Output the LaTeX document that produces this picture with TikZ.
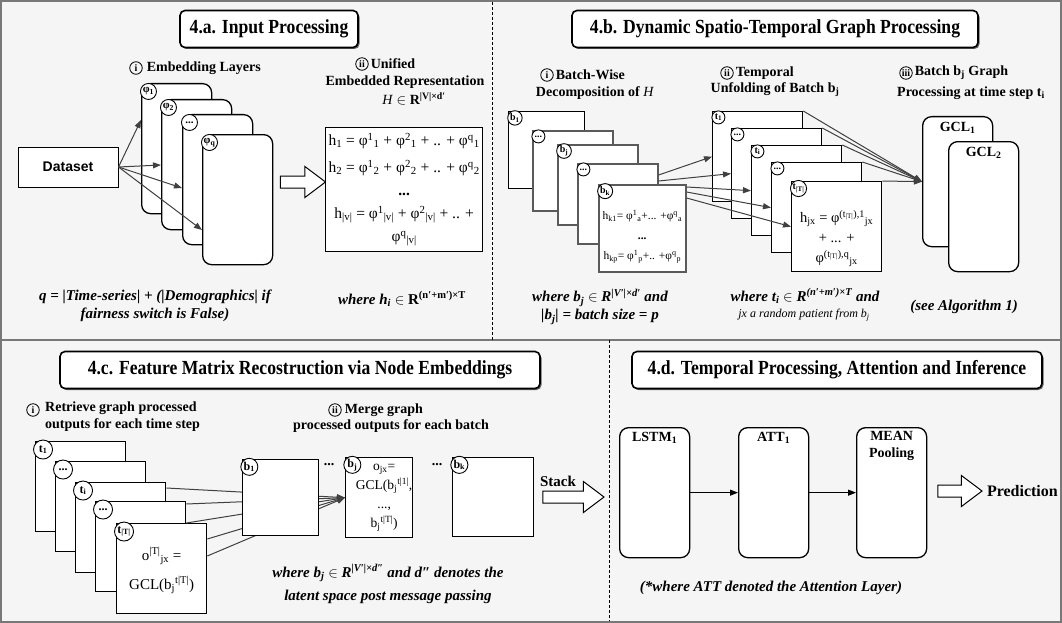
\documentclass[tikz,border=0pt]{standalone}
\usepackage{fontspec}
\setmainfont{Liberation Serif}
\newfontfamily\headfont[FakeStretch=0.88]{Liberation Serif}
\newfontfamily\arialfont{Liberation Sans}
\usetikzlibrary{positioning,arrows.meta,shapes.arrows,shadows}

\newcommand{\sps}[2]{\textsuperscript{#1}\textsubscript{#2}}

\begin{document}
\begin{tikzpicture}[x=1pt, y=-1pt]
	% Colours
	\definecolor{canvas}{RGB}{245,245,245}
	\definecolor{rim}{RGB}{120,120,120}
	\definecolor{edge}{RGB}{64,64,64}
	\definecolor{sheetgray}{RGB}{90,90,90}

	% Styles
	\tikzset{
		panel/.style={draw, line width=1.6pt, rounded corners=5pt, fill=white, minimum height=37pt,
			font=\headfont\bfseries\fontsize{20}{22}\selectfont,
			drop shadow={shadow xshift=1.5pt, shadow yshift=-1.5pt, opacity=0.6, fill=black}},
		layer/.style={draw, line width=1.3pt, rounded corners=9pt, fill=white, anchor=north west,
			minimum width=70pt, minimum height=130pt, inner sep=0pt},
		sheet/.style={draw, line width=1.3pt, fill=white, anchor=north west, inner sep=0pt},
		batch/.style={sheet, draw=sheetgray, line width=1.6pt, minimum width=80pt, minimum height=80pt},
		tframe/.style={sheet, minimum width=90pt, minimum height=90pt},
		tag/.style={circle, draw, line width=0.9pt, fill=white, inner sep=0.6pt, minimum size=16pt,
			font=\bfseries\fontsize{11}{12}\selectfont, anchor=north west},
		smalltag/.style={tag, minimum size=13pt, font=\bfseries\fontsize{10}{11}\selectfont},
		bigtag/.style={tag, minimum size=19pt, font=\bfseries\fontsize{12}{13}\selectfont},
		num/.style={circle, draw, line width=0.8pt, inner sep=0.3pt, minimum size=12.5pt,
			font=\bfseries\fontsize{10}{11}\selectfont},
		lbl/.style={font=\bfseries\fontsize{14}{17}\selectfont, inner sep=1pt},
		note/.style={font=\bfseries\itshape\fontsize{15}{18}\selectfont, align=center},
		link/.style={-{Triangle[length=8pt, width=6pt]}, draw=edge, line width=1pt},
		bigarrow/.style={single arrow, draw, line width=1pt, fill=white, inner sep=5.5pt,
			single arrow head extend=9.5pt, single arrow tip angle=74, minimum height=45pt}
	}

	% --- Background and frame ---
	\useasboundingbox (0,0) rectangle (1062,623);
	\fill[canvas] (0,0) rectangle (1062,623);
	\draw[rim, line width=2pt] (1,1) rectangle (1061,622);
	\draw[rim, line width=1.5pt] (0,340) -- (1062,340);
	\draw[dash pattern=on 3pt off 2pt, line width=0.6pt] (492,2) -- (492,340);
	\draw[dash pattern=on 3pt off 2pt, line width=0.6pt] (609,340) -- (609,621);

	% --- Panel titles ---
	\node[panel, minimum width=178pt] (Ta) at (269,29) {4.a. Input Processing};
	\node[panel, minimum width=406pt] (Tb) at (775,29) {4.b. Dynamic Spatio-Temporal Graph Processing};
	\node[panel, minimum width=480pt] (Tc) at (300,370) {4.c. Feature Matrix Recostruction via Node Embeddings};
	\node[panel, minimum width=410pt] (Td) at (837,370) {4.d. Temporal Processing, Attention and Inference};

	% --- 4.a Input processing ---
	\node[num] (ai) at (136,68) {i};
	\node[lbl, anchor=west] (aiT) at ([xshift=3pt]ai.east) {Embedding Layers};
	\node[layer] (P1) at (141,83) {};
	\node[tag] (P1t) at ([shift={(1.5,2.5)}]P1.north west) {φ\textsubscript{1}};
	\node[layer] (P2) at (161,99) {};
	\node[tag] (P2t) at ([shift={(1.5,2.5)}]P2.north west) {φ\textsubscript{2}};
	\node[layer] (P3) at (182,114) {};
	\node[tag] (P3t) at ([shift={(1.5,2.5)}]P3.north west) {...};
	\node[layer] (Pq) at (202,134) {};
	\node[tag] (Pqt) at ([shift={(1.5,2.5)}]Pq.north west) {φ\textsubscript{q}};

	\node[draw, fill=white, line width=1pt, minimum width=100pt, minimum height=40pt,
		font=\arialfont\bfseries\fontsize{14}{16}\selectfont] (D) at (68,167) {Dataset};
	\draw[link] (D.east) -- ([shift={(0,37)}]P1.north west);
	\draw[link] (D.east) -- ([shift={(0,66)}]P2.north west);
	\draw[link] (D.east) -- ([shift={(0,74)}]P3.north west);
	\draw[link] (D.east) -- ([shift={(0,96)}]Pq.north west);

	\node[bigarrow] (Aa) at (299,182) {};

	\node[num] (aii) at (362,64) {ii};
	\node[lbl, anchor=west] (aiiT) at ([xshift=1pt]aii.east) {Unified};
	\node[lbl] (aiiU) at (405,82) {Embedded Representation};
	\node[lbl] (aiiH) at (414,99) {\textit{\mdseries H} $\in$ R\textsuperscript{|V|×d′}};
	\node[sheet, minimum width=157pt, minimum height=124pt, align=center,
		font=\fontsize{15.5}{23}\selectfont] (Hb) at (325,127) {%
		h\textsubscript{1} = φ\sps{1}{1} + φ\sps{2}{1} + .. + φ\sps{q}{1}\\[4pt]
		h\textsubscript{2} = φ\sps{1}{2} + φ\sps{2}{2} + .. + φ\sps{q}{2}\\
		\textbf{...}\\
		h\textsubscript{|v|} = φ\sps{1}{|v|} + φ\sps{2}{|v|} + .. +\\
		φ\sps{q}{|v|}};

	\node[note] (aq) at (155,306) {q = |Time-series| + (|Demographics| if\\ fairness switch is False)};
	\node[note] (ah) at (402,299) {where h\textsubscript{i} \textup{$\in$ R\textsuperscript{(n′+m′)×T}}};

	% --- 4.b Dynamic spatio-temporal graph processing ---
	\node[num] (bi) at (547,75) {i};
	\node[lbl, anchor=west] (biT) at ([xshift=1pt]bi.east) {Batch-Wise};
	\node[lbl] (biD) at (595,93) {Decomposition of \textit{\mdseries H}};

	\node[batch, draw=black, line width=1.3pt, minimum width=76pt, minimum height=77pt] (B1) at (508,111) {};
	\node[smalltag] (B1t) at ([shift={(1.5,1.5)}]B1.north west) {b\textsubscript{1}};
	\node[batch] (Bd1) at (532,130) {};
	\node[smalltag] (Bd1t) at ([shift={(1.5,1.5)}]Bd1.north west) {...};
	\node[batch] (Bj) at (557,144) {};
	\node[smalltag] (Bjt) at ([shift={(1.5,1.5)}]Bj.north west) {b\textsubscript{j}};
	\node[batch] (Bd2) at (577,163) {};
	\node[smalltag] (Bd2t) at ([shift={(1.5,1.5)}]Bd2.north west) {...};
	\node[batch, minimum width=87pt, minimum height=87pt] (Bk) at (598,184) {};
	\node[smalltag, minimum size=15pt] (Bkt) at ([shift={(1.5,1.5)}]Bk.north west) {b\textsubscript{k}};
	\node[font=\fontsize{11.5}{20}\selectfont, align=center] (Bkx) at ([shift={(0,8)}]Bk.center)
		{h\textsubscript{k1}= φ\sps{1}{a}+... +φ\sps{q}{a}\\ \textbf{...}\\ h\textsubscript{kp}= φ\sps{1}{p}+.. +φ\sps{q}{p}};

	\node[num] (bii) at (727,73) {ii};
	\node[lbl, anchor=west] (biiT) at ([xshift=1pt]bii.east) {Temporal};
	\node[lbl] (biiU) at (775,90) {Unfolding of Batch b\textsubscript{j}};

	\node[tframe] (T1) at (712,111) {};
	\node[smalltag] (T1t) at ([shift={(1.5,1.5)}]T1.north west) {t\textsubscript{1}};
	\node[tframe] (Td1) at (731,128) {};
	\node[smalltag] (Td1t) at ([shift={(1.5,1.5)}]Td1.north west) {...};
	\node[tframe] (Ti) at (751,145) {};
	\node[smalltag] (Tit) at ([shift={(1.5,1.5)}]Ti.north west) {t\textsubscript{i}};
	\node[tframe] (Td2) at (771,162) {};
	\node[smalltag] (Td2t) at ([shift={(1.5,1.5)}]Td2.north west) {...};
	\node[tframe] (TT) at (791,181) {};
	\node[smalltag] (TTt) at ([shift={(1.5,1.5)}]TT.north west) {t\textsubscript{|T|}};
	\node[font=\fontsize{14.5}{20}\selectfont, align=center] (TTx) at ([shift={(0,12)}]TT.center)
		{h\textsubscript{jx} = φ\textsuperscript{(t\textsubscript{|T|}),1}\textsubscript{jx}\\ + ... +\\
		φ\textsuperscript{(t\textsubscript{|T|}),q}\textsubscript{jx}};

	\draw[link] ([shift={(0,12)}]Bd2.north east) -- (T1.west);
	\draw[link] ([shift={(0,18)}]Bd2.north east) -- (Td1.west);
	\draw[link] ([shift={(0,3)}]Bk.north east) -- (Ti.west);
	\draw[link] ([shift={(0,8)}]Bk.north east) -- (Td2.west);
	\draw[link] ([shift={(0,14)}]Bk.north east) -- (TT.west);

	\node[num] (biii) at (906,73) {iii};
	\node[lbl, anchor=west] (biiiT) at ([xshift=1pt]biii.east) {Batch b\textsubscript{j} Graph};
	\node[lbl] (biiiP) at (971,93) {Processing at time step t\textsubscript{i}};

	\node[layer] (G1) at (922,116) {};
	\node[lbl] (G1l) at ([shift={(0,12)}]G1.north) {GCL\textsubscript{1}};
	\node[layer] (G2) at (948,141) {};
	\node[lbl] (G2l) at ([shift={(0,12)}]G2.north) {GCL\textsubscript{2}};

	\draw[link] (T1.north east) -- (G1.west);
	\draw[link] (Td1.north east) -- (G1.west);
	\draw[link] (Ti.north east) -- (G1.west);
	\draw[link] (Td2.north east) -- (G1.west);
	\draw[link] (TT.north east) -- (G1.west);

	\node[note] (bb) at (600,307) {where b\textsubscript{j} \textup{$\in$} R\textsuperscript{|V′|×d′} and\\ |b\textsubscript{j}| = batch size = p};
	\node[note] (bt) at (805,296) {where t\textsubscript{i} \textup{$\in$} R\textsuperscript{(n′+m′)×T} and};
	\node[font=\itshape\fontsize{12}{14}\selectfont] (bt2) at (804,315) {jx a random patient from b\textsubscript{j}};
	\node[note] (bs) at (964,307) {(see Algorithm 1)};

	% --- 4.c Feature matrix reconstruction ---
	\node[num] (ci) at (33,410) {i};
	\node[lbl, anchor=north west, align=left] (ciT) at (44,401) {Retrieve graph processed\\outputs for each time step};

	\node[tframe] (C1) at (35,441) {};
	\node[bigtag] (C1t) at ([shift={(1,1.5)}]C1.north west) {t\textsubscript{1}};
	\node[tframe] (Cd1) at (55,461) {};
	\node[bigtag] (Cd1t) at ([shift={(1,1.5)}]Cd1.north west) {...};
	\node[tframe] (Ci) at (75,482) {};
	\node[bigtag] (Cit) at ([shift={(1,1.5)}]Ci.north west) {t\textsubscript{i}};
	\node[tframe] (Cd2) at (95,501) {};
	\node[bigtag] (Cd2t) at ([shift={(1,1.5)}]Cd2.north west) {...};
	\node[tframe] (CT) at (116,523) {};
	\node[bigtag] (CTt) at ([shift={(1,1.5)}]CT.north west) {t\textsubscript{|T|}};
	\node[font=\fontsize{15}{29}\selectfont, align=center] (CTx) at ([shift={(0,2)}]CT.center)
		{o\textsuperscript{|T|}\textsubscript{jx} =\\ GCL(b\textsubscript{j}\textsuperscript{t|T|})};

	\node[num] (cii) at (335,410) {ii};
	\node[lbl, anchor=west] (ciiT) at ([xshift=2pt]cii.east) {Merge graph};
	\node[lbl] (ciiP) at (391,426) {processed outputs for each batch};

	\node[sheet, minimum width=67pt, minimum height=80pt] (Cj) at (345,457) {};
	\node[bigtag, minimum size=17pt] (Cjt) at ([shift={(1,1.5)}]Cj.north west) {b\textsubscript{j}};
	\node[font=\fontsize{13.5}{19}\selectfont, align=center] (Cjx) at ([shift={(5,0)}]Cj.center)
		{o\textsubscript{jx}=\\ GCL(b\textsubscript{j}\textsuperscript{t|1|},\\ ...,\\ b\textsubscript{j}\textsuperscript{t|T|})};
	\node[sheet, minimum width=81pt, minimum height=79pt] (Ck) at (452,457) {};
	\node[bigtag, minimum size=17pt] (Ckt) at ([shift={(1,1.5)}]Ck.north west) {b\textsubscript{k}};

	\draw[link] ([shift={(0,6)}]Ci.north east) -- (Cj.west);
	\draw[link] ([shift={(0,3)}]Cd2.north east) -- (Cj.west);
	\draw[link] ([shift={(0,22)}]Cd2.north east) -- (Cj.west);
	\draw[link] ([shift={(0,16)}]CT.north east) -- (Cj.west);
	\draw[link] ([shift={(0,33)}]CT.north east) -- (Cj.west);

	\node[sheet, minimum width=76pt, minimum height=76pt] (Cb1) at (242,459) {};
	\node[bigtag, minimum size=17pt] (Cb1t) at ([shift={(1,1.5)}]Cb1.north west) {b\textsubscript{1}};

	\node[lbl] (cdots1) at (329,465) {...};
	\node[lbl] (cdots2) at (437,465) {...};

	\node[lbl, font=\bfseries\fontsize{15}{17}\selectfont] (stk) at (558,481) {Stack};
	\node[bigarrow, minimum height=61pt] (Ac) at (569.5,497) {};

	\node[note, font=\bfseries\itshape\fontsize{15}{23}\selectfont] (cn) at (388,584)
		{where b\textsubscript{j} \textup{$\in$} R\textsuperscript{|V′|×d″} and d″ denotes the\\latent space post message passing};

	% --- 4.d Temporal processing, attention and inference ---
	\node[layer] (L) at (619,427) {};
	\node[lbl] (Ll) at ([shift={(0,11)}]L.north) {LSTM\textsubscript{1}};
	\node[layer] (A) at (738,427) {};
	\node[lbl] (Al) at ([shift={(0,11)}]A.north) {ATT\textsubscript{1}};
	\node[layer] (M) at (856,427) {};
	\node[lbl, align=center] (Ml) at ([shift={(0,19)}]M.north) {MEAN\\Pooling};

	\draw[link, draw=black] (L) -- (A);
	\draw[link, draw=black] (A) -- (M);

	\node[bigarrow, minimum height=44pt] (Ad) at (956,491) {};
	\node[lbl, anchor=west, font=\bfseries\fontsize{16}{18}\selectfont] (pred) at ([xshift=3pt]Ad.east) {Prediction};

	\node[note] (dn) at (771,588) {(*where ATT denoted the Attention Layer)};
\end{tikzpicture}
\end{document}
